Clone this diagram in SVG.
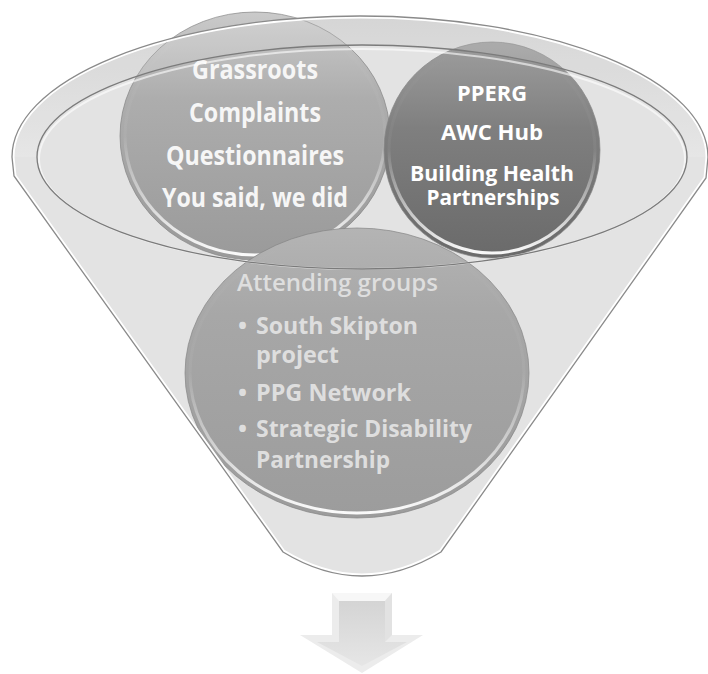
<svg xmlns="http://www.w3.org/2000/svg" width="708" height="674" viewBox="0 0 708 674">
<defs>
<style>
.t{font-family:"Open Sans","Liberation Sans",sans-serif;font-weight:700}
.tl{fill:#f6f6f6;font-size:26px;text-anchor:middle}
.tr{fill:#ffffff;font-size:22px;text-anchor:middle}
.tb{fill:#dedede;font-size:24px}
.reg{font-weight:600}
.edge{fill:none;stroke:#858585;stroke-width:1;stroke-opacity:0.7}
.ring{fill:none;stroke:url(#ring);stroke-width:3}
</style>
<linearGradient id="gL" x1="0" y1="0" x2="0" y2="1">
<stop offset="0" stop-color="#cacaca"/><stop offset="0.35" stop-color="#adadad"/><stop offset="1" stop-color="#9a9a9a"/>
</linearGradient>
<linearGradient id="gR" x1="0" y1="0" x2="0" y2="1">
<stop offset="0" stop-color="#9e9e9e"/><stop offset="0.4" stop-color="#7f7f7f"/><stop offset="1" stop-color="#6a6a6a"/>
</linearGradient>
<linearGradient id="gB" x1="0" y1="0" x2="0" y2="1">
<stop offset="0" stop-color="#b4b4b4"/><stop offset="0.3" stop-color="#a7a7a7"/><stop offset="1" stop-color="#9c9c9c"/>
</linearGradient>
<linearGradient id="ring" x1="0" y1="0" x2="0" y2="1">
<stop offset="0" stop-color="#ffffff" stop-opacity="0"/><stop offset="0.5" stop-color="#ffffff" stop-opacity="0.05"/><stop offset="0.8" stop-color="#ffffff" stop-opacity="0.6"/><stop offset="1" stop-color="#ffffff" stop-opacity="0.95"/>
</linearGradient>
<linearGradient id="band" x1="0" y1="0" x2="0" y2="1">
<stop offset="0" stop-color="#cfcfcf"/><stop offset="1" stop-color="#e2e2e2"/>
</linearGradient>
<linearGradient id="arrowIn" x1="0" y1="0" x2="0" y2="1">
<stop offset="0" stop-color="#d4d4d4"/><stop offset="1" stop-color="#e6e6e6"/>
</linearGradient>
<path id="fp" d="M12,157 A348,141 0 0 1 708,157 L706,178 L441,552 Q362,600 283,552 L14,176 Z"/>
<path id="bandp" d="M12,157 A348,141 0 0 1 708,157 L687,157 A325,112 0 0 0 37,157 Z"/>
<clipPath id="fc"><use href="#fp"/></clipPath>
</defs>

<g id="funnel-back">
<use href="#fp" fill="#e3e3e3"/>
<use href="#bandp" fill="url(#band)"/>
</g>

<g id="node-grassroots">
<ellipse cx="255" cy="136" rx="135" ry="124" fill="url(#gL)"/>
<ellipse cx="255" cy="136" rx="130" ry="119" class="ring"/>
<ellipse cx="255" cy="136" rx="135" ry="124" class="edge"/>
<text class="t tl" x="255" y="79" textLength="126" lengthAdjust="spacingAndGlyphs">Grassroots</text>
<text class="t tl" x="255" y="122" textLength="132" lengthAdjust="spacingAndGlyphs">Complaints</text>
<text class="t tl" x="255" y="165" textLength="178" lengthAdjust="spacingAndGlyphs">Questionnaires</text>
<text class="t tl" x="255" y="207" textLength="186" lengthAdjust="spacingAndGlyphs">You said, we did</text>
</g>

<g id="node-pperg">
<circle cx="492" cy="150" r="108" fill="url(#gR)"/>
<circle cx="492" cy="150" r="103" class="ring"/>
<circle cx="492" cy="150" r="108" class="edge"/>
<text class="t tr" x="492" y="101" textLength="70" lengthAdjust="spacingAndGlyphs">PPERG</text>
<text class="t tr" x="492" y="140" textLength="102" lengthAdjust="spacingAndGlyphs">AWC Hub</text>
<text class="t tr" x="492" y="181" textLength="164" lengthAdjust="spacingAndGlyphs">Building Health</text>
<text class="t tr" x="493" y="205" textLength="133" lengthAdjust="spacingAndGlyphs">Partnerships</text>
</g>

<g id="node-attending">
<ellipse cx="357" cy="373" rx="172" ry="145" fill="url(#gB)"/>
<ellipse cx="357" cy="373" rx="167" ry="140" class="ring"/>
<ellipse cx="357" cy="373" rx="172" ry="145" class="edge"/>
<text class="t tb reg" x="237" y="291" textLength="201" lengthAdjust="spacingAndGlyphs">Attending groups</text>
<text class="t tb" x="238" y="334">•</text>
<text class="t tb" x="256" y="334" textLength="162" lengthAdjust="spacingAndGlyphs">South Skipton</text>
<text class="t tb" x="256" y="363" textLength="83" lengthAdjust="spacingAndGlyphs">project</text>
<text class="t tb" x="238" y="401">•</text>
<text class="t tb" x="256" y="401" textLength="155" lengthAdjust="spacingAndGlyphs">PPG Network</text>
<text class="t tb" x="238" y="437">•</text>
<text class="t tb" x="256" y="437" textLength="216" lengthAdjust="spacingAndGlyphs">Strategic Disability</text>
<text class="t tb" x="256" y="468" textLength="134" lengthAdjust="spacingAndGlyphs">Partnership</text>
</g>

<g id="funnel-front">
<use href="#bandp" fill="#ffffff" fill-opacity="0.14"/>
<use href="#fp" fill="none" stroke="#ffffff" stroke-width="5" clip-path="url(#fc)"/>
<use href="#fp" fill="none" stroke="#8a8a8a" stroke-width="1.3"/>
<ellipse cx="362" cy="159" rx="323" ry="110" fill="none" stroke="#ffffff" stroke-width="2" stroke-opacity="0.6"/>
<ellipse cx="362" cy="157" rx="325" ry="112" fill="none" stroke="#7b7b7b" stroke-width="1.3"/>
</g>

<g id="connectors">
<polygon points="332,593 392,593 392,635 423,635 362,673 300,635 332,635" fill="#ececec"/>
<polygon points="332,593 392,593 385,601 339,601" fill="#f7f7f7"/>
<polygon points="392,593 392,635 385,642 385,601" fill="#e2e2e2"/>
<polygon points="339,601 385,601 385,642 407,642 362,666 317,642 339,642" fill="url(#arrowIn)"/>
</g>
</svg>
